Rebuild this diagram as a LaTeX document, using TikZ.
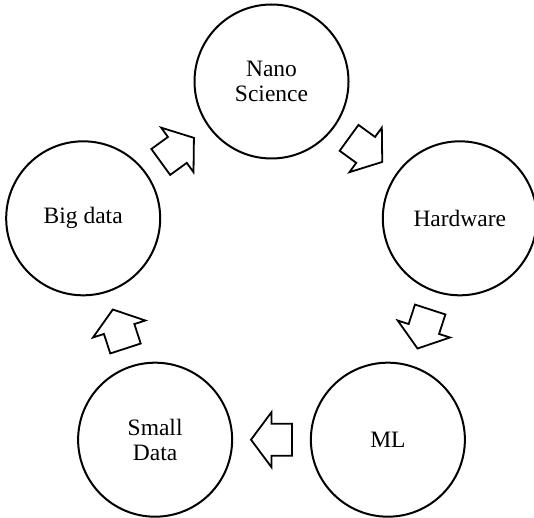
\documentclass[tikz,border=0pt]{standalone}
\usepackage{fontspec}
\setmainfont{Liberation Serif}
\usetikzlibrary{calc}
\begin{document}
\begin{tikzpicture}[x=1pt,y=1pt,
  stage/.style={circle,draw=black,line width=2pt,minimum size=154pt,inner sep=0pt,
    align=center,font=\fontsize{23.5}{25}\selectfont},
  blockarrow/.style={draw=black,line width=1.8pt,fill=white,line join=miter}]
\useasboundingbox (0,0) rectangle (534,517);
\coordinate (C) at (271.5,237.5);
\node[stage] (nano)  at ($(C)+(90:198)$)   {Nano\\Science};
\node[stage] (hw)    at ($(C)+(18:198)$)   {Hardware};
\node[stage] (ml)    at ($(C)+(-54:198)$)  {ML};
\node[stage] (small) at ($(C)+(-126:198)$) {Small\\Data};
\node[stage] (big)   at ($(C)+(162:198)$)  {Big data};
\foreach \a/\b/\r in {nano/hw/-36, hw/ml/-108, ml/small/180, small/big/108, big/nano/36}{
  \draw[blockarrow, shift={($(\a)!0.5!(\b)$)}, rotate=\r]
    (20.5,0) -- (0,27.5) -- (0,16) -- (-20.5,16) -- (-20.5,-16) -- (0,-16) -- (0,-27.5) -- cycle;
}
\end{tikzpicture}
\end{document}
